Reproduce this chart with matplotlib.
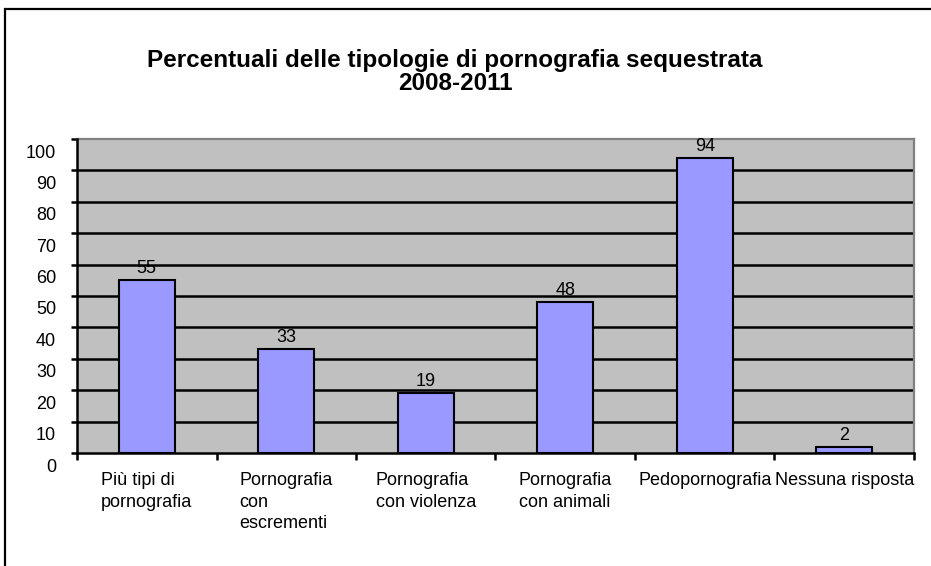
import numpy as np
import matplotlib.pyplot as plt
from matplotlib.patches import Rectangle
from matplotlib.transforms import ScaledTranslation

plt.rcParams['font.family'] = ['Liberation Sans', 'DejaVu Sans']

categorie = ['Più tipi di\npornografia', 'Pornografia\ncon\nescrementi',
             'Pornografia\ncon violenza', 'Pornografia\ncon animali',
             'Pedopornografia', 'Nessuna risposta']
valori = [55, 33, 19, 48, 94, 2]
yticks = np.arange(0, 101, 10)

W, H = 931, 566
fig = plt.figure(figsize=(W / 100, H / 100), dpi=100)
fig.patch.set_facecolor('white')

# cornice esterna (solo bordo sinistro e superiore visibili)
fig.patches.append(Rectangle((5 / W, -0.1), 1.2, 1 - 9 / H + 0.1, transform=fig.transFigure,
                             fill=False, edgecolor='black', linewidth=1.6, clip_on=False))

ax = fig.add_axes([77 / W, (H - 453) / H, (914 - 77) / W, (453 - 139) / H])
ax.set_facecolor('#C0C0C0')
x = np.arange(len(valori))
ax.bar(x, valori, width=0.4, color='#9999FF', edgecolor='black', linewidth=1.5, zorder=3)
for xi, v in zip(x, valori):
    ax.text(xi, v + 1.0, str(v), ha='center', va='bottom', fontsize=13, zorder=4)

ax.set_xlim(-0.5, len(valori) - 0.5)
ax.set_ylim(0, 100)
ax.set_yticks(yticks)
for g in yticks[1:-1]:
    ax.axhline(g, color='black', linewidth=1.8, zorder=1)

for s in ['top', 'right']:
    ax.spines[s].set_color('#808080')
    ax.spines[s].set_linewidth(1.6)
for s in ['left', 'bottom']:
    ax.spines[s].set_color('black')
    ax.spines[s].set_linewidth(1.8)
    ax.spines[s].set_zorder(5)

ax.tick_params(axis='y', direction='out', length=4, width=1.8, pad=11, labelsize=13)
ax.set_xticks(x)
ax.set_xticklabels(categorie, fontsize=13, linespacing=1.32)
for lab in ax.get_xticklabels():
    lab.set_multialignment('left')
ax.tick_params(axis='x', which='major', length=0, pad=14)
ax.set_xticks(np.arange(-0.5, len(valori), 1), minor=True)
ax.tick_params(axis='x', which='minor', direction='out', length=5, width=1.8)

shift = ScaledTranslation(0, -12 / 100, fig.dpi_scale_trans)
for lab in ax.get_yticklabels():
    lab.set_transform(lab.get_transform() + shift)

fig.text(455 / W, 1 - 72 / H, 'Percentuali delle tipologie di pornografia sequestrata\n2008-2011',
         ha='center', va='center', fontsize=17.5, fontweight='bold', linespacing=0.97)

fig.savefig('out.png', dpi=100)
